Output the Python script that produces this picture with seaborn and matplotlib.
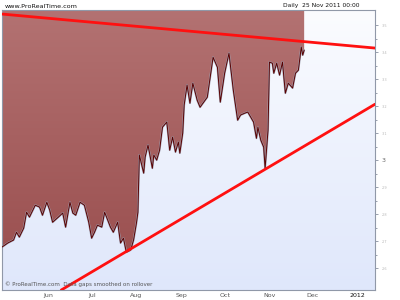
import numpy as np
import pandas as pd
import matplotlib
matplotlib.use("Agg")
import matplotlib.pyplot as plt
from matplotlib.colors import LinearSegmentedColormap
import seaborn as sns

sns.set_theme(style="white")
plt.rcParams['font.family'] = ['DejaVu Sans']

# ---- data ----
dates = ["2011-04-30","2011-05-04","2011-05-08","2011-05-10","2011-05-12","2011-05-15",
         "2011-05-17","2011-05-19","2011-05-23","2011-05-26","2011-05-28","2011-05-31",
         "2011-06-02","2011-06-04","2011-06-08","2011-06-11","2011-06-13","2011-06-16",
         "2011-06-18","2011-06-20","2011-06-23","2011-06-26","2011-06-29","2011-07-01",
         "2011-07-03","2011-07-05","2011-07-08","2011-07-10","2011-07-14","2011-07-16",
         "2011-07-19","2011-07-21","2011-07-23","2011-07-25","2011-07-28","2011-07-30",
         "2011-08-01","2011-08-02","2011-08-03","2011-08-06","2011-08-07","2011-08-09",
         "2011-08-12","2011-08-13","2011-08-15","2011-08-17","2011-08-19","2011-08-22",
         "2011-08-24","2011-08-26","2011-08-28","2011-08-30","2011-08-31","2011-09-02",
         "2011-09-03","2011-09-05","2011-09-07","2011-09-09","2011-09-12","2011-09-14",
         "2011-09-19","2011-09-23","2011-09-26","2011-09-28","2011-10-01","2011-10-04",
         "2011-10-07","2011-10-10","2011-10-12","2011-10-15","2011-10-17","2011-10-21",
         "2011-10-23","2011-10-24","2011-10-26","2011-10-28","2011-10-29","2011-10-31",
         "2011-11-01","2011-11-03","2011-11-04","2011-11-06","2011-11-08","2011-11-10",
         "2011-11-12","2011-11-14","2011-11-17","2011-11-19","2011-11-21","2011-11-23",
         "2011-11-24","2011-11-25"]
prices = [2.678,2.693,2.704,2.733,2.715,2.748,2.807,2.789,2.833,2.826,2.796,2.844,
          2.815,2.770,2.789,2.804,2.752,2.844,2.804,2.796,2.844,2.833,2.770,2.711,
          2.733,2.759,2.752,2.807,2.752,2.733,2.770,2.693,2.711,2.659,2.667,2.704,
          2.767,2.807,3.019,2.952,3.011,3.056,2.970,3.019,3.000,3.037,3.122,3.141,
          3.037,3.085,3.030,3.067,3.026,3.100,3.204,3.278,3.211,3.285,3.222,3.196,
          3.233,3.381,3.344,3.215,3.322,3.396,3.259,3.148,3.167,3.174,3.178,3.141,
          3.081,3.122,3.074,3.048,2.970,3.111,3.363,3.359,3.322,3.359,3.315,3.363,
          3.248,3.285,3.267,3.322,3.333,3.419,3.389,3.407]

upper_trend_dates = ["2011-04-30", "2012-01-13"]
upper_trend_vals = [3.541, 3.415]
lower_trend_dates = ["2011-06-10", "2012-01-13"]
lower_trend_vals = [2.519, 3.207]

month_ticks = ["2011-06-01","2011-07-01","2011-08-01","2011-09-01","2011-10-01",
               "2011-11-01","2011-12-01","2012-01-01"]
month_labels = ["Jun","Jul","Aug","Sep","Oct","Nov","Dec","2012"]
ytick_vals = [2.6, 2.7, 2.8, 2.9, 3.0, 3.1, 3.2, 3.3, 3.4, 3.5]
ytick_labels = ["2.6", "2.7", "2.8", "2.9", "3", "3.1", "3.2", "3.3", "3.4", "3.5"]

df = pd.DataFrame({"date": pd.to_datetime(dates), "price": prices})

x_min, x_max = pd.Timestamp("2011-04-30"), pd.Timestamp("2012-01-13")
y_min, y_max = 2.519, 3.556

fig = plt.figure(figsize=(4, 3), dpi=100)
fig.patch.set_facecolor("white")
ax = fig.add_axes([2/400, 10/300, 373/400, 280/300])

# background gradient
bg = LinearSegmentedColormap.from_list("bg", ["#dfe7fb", "#fbfcff"])
ax.imshow(np.linspace(0, 1, 256).reshape(-1, 1), aspect="auto", cmap=bg,
          origin="lower", extent=[0, 1, 0, 1], transform=ax.transAxes, zorder=0)

# filled area above the curve
poly = ax.fill_between(df["date"], df["price"], y_max, color="none", lw=0, zorder=1)
fc = LinearSegmentedColormap.from_list("fc", ["#984c4c", "#b37272"])
im = ax.imshow(np.linspace(0, 1, 256).reshape(-1, 1), aspect="auto", cmap=fc,
               origin="lower", extent=[0, 1, 0, 1], transform=ax.transAxes, zorder=1)
im.set_clip_path(poly.get_paths()[0], transform=ax.transData)

sns.lineplot(data=df, x="date", y="price", ax=ax, color="#a0a0b0", lw=1.4, zorder=2)
sns.lineplot(data=df, x="date", y="price", ax=ax, color="#5a0000", lw=0.7, zorder=3)

# trend lines
sns.lineplot(x=pd.to_datetime(upper_trend_dates), y=upper_trend_vals, ax=ax,
             color="#ff1010", lw=2.0, zorder=4)
sns.lineplot(x=pd.to_datetime(lower_trend_dates), y=lower_trend_vals, ax=ax,
             color="#ff1010", lw=2.0, zorder=4)

ax.set_xlim(x_min, x_max)
ax.set_ylim(y_min, y_max)
ax.set_xlabel("")
ax.set_ylabel("")

ax.set_xticks(pd.to_datetime(month_ticks))
ax.set_xticklabels(month_labels, fontsize=4.5, color="#555555")
ax.get_xticklabels()[-1].set_color("#111111")
ax.tick_params(axis="x", length=0, pad=2)

ax.yaxis.tick_right()
ax.set_yticks(ytick_vals)
ax.set_yticklabels(ytick_labels, fontsize=2.5, color="#b8b8b8")
for lab in ax.get_yticklabels():
    if lab.get_text() == "3":
        lab.set_fontsize(4.5)
        lab.set_color("#666666")
ax.set_yticks(np.array(ytick_vals[:-1]) + 0.05, minor=True)
ax.tick_params(axis="y", which="major", length=2.5, width=0.6, color="#8890a0", pad=2)
ax.tick_params(axis="y", which="minor", length=1.5, width=0.6, color="#8890a0", right=True, left=False)

for s in ax.spines.values():
    s.set_color("#9098a8")
    s.set_linewidth(0.8)

fig.text(5/400, 1 - 6/300, "www.ProRealTime.com", fontsize=4.6, color="#111111",
         va="center", ha="left")
fig.text(283/400, 1 - 6/300, "Daily  25 Nov 2011 00:00", fontsize=4.3, color="#111111",
         va="center", ha="left")
ax.text(0.008, 0.012, "© ProRealTime.com  Data gaps smoothed on rollover",
        transform=ax.transAxes, fontsize=4, color="#555555", ha="left", va="bottom", zorder=5)

fig.savefig("out.png", dpi=100)
